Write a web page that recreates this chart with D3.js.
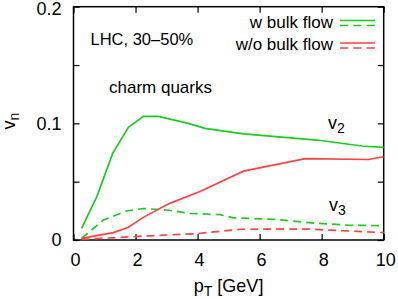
<!DOCTYPE html>
<html>
<head>
<meta charset="utf-8">
<script src="https://cdn.jsdelivr.net/npm/d3@7"></script>
<style>
  body { margin: 0; background: white; }
  svg { display: block; font-family: "Liberation Sans", Arial, sans-serif; }
</style>
</head>
<body>
<div id="myPlot"></div>
<script>
const rootSelector = "#myPlot"

// v2, with bulk flow (green solid)
const ptV2Bulk = [0.26, 0.75, 1.26, 1.77, 2.25, 2.74, 3.7, 4.24, 5.48, 7.84, 9.3, 10]
const v2Bulk = [0.010, 0.037, 0.074, 0.0966, 0.106, 0.106, 0.100, 0.0957, 0.091, 0.0857, 0.0806, 0.0794]

// v3, with bulk flow (green dashed)
const ptV3Bulk = [0.26, 0.96, 1.7, 2.25, 3.0, 3.76, 4.73, 5.15, 6.45, 7.85, 8.92, 10]
const v3Bulk = [0.0014, 0.017, 0.0249, 0.027, 0.0257, 0.0229, 0.0217, 0.019, 0.0177, 0.0143, 0.0126, 0.0123]

// v2, without bulk flow (red solid)
const ptV2NoBulk = [0.26, 1.28, 1.77, 2.25, 3.1, 4.08, 5.48, 7.47, 9.5, 10]
const v2NoBulk = [0.0014, 0.0063, 0.0109, 0.0194, 0.0314, 0.0415, 0.059, 0.0697, 0.069, 0.0714]

// v3, without bulk flow (red dashed)
const ptV3NoBulk = [0.26, 2.0, 4.0, 5.4, 7.5, 8.9, 10]
const v3NoBulk = [0.0005, 0.003, 0.0055, 0.0092, 0.0094, 0.0077, 0.0063]

const xTicks = [0, 2, 4, 6, 8, 10]
const yTicks = [0, 0.05, 0.1, 0.15, 0.2]
const yTickLabels = ["0", "", "0.1", "", "0.2"]
const legendLabels = ["w bulk flow", "w/o bulk flow"]

const green = "#1ccc1c"
const red = "#ff4242"

const clientWidth = 398
const clientHeight = 299
const margin = {top: 6.7, right: 14.3, bottom: 59, left: 73.5}
const width = clientWidth - margin.left - margin.right
const height = clientHeight - margin.top - margin.bottom

const svg = d3.select(rootSelector).append("svg")
    .attr("width", clientWidth)
    .attr("height", clientHeight)

const g = svg.append("g")
    .attr("transform", `translate(${margin.left}, ${margin.top})`)

const xScale = d3.scaleLinear().domain([0, 10]).range([0, width])
const yScale = d3.scaleLinear().domain([0, 0.2]).range([height, 0])

const tickLen = 6

// ticks on all four sides, pointing inward
g.append("g")
    .attr("transform", `translate(0, ${height})`)
    .call(d3.axisTop(xScale).tickValues(xTicks).tickSize(tickLen).tickFormat(""))
g.append("g")
    .call(d3.axisBottom(xScale).tickValues(xTicks).tickSize(tickLen).tickFormat(""))
g.append("g")
    .call(d3.axisRight(yScale).tickValues(yTicks).tickSize(tickLen).tickFormat(""))
g.append("g")
    .attr("transform", `translate(${width}, 0)`)
    .call(d3.axisLeft(yScale).tickValues(yTicks).tickSize(tickLen).tickFormat(""))

g.selectAll(".domain").remove()
g.selectAll(".tick line").attr("stroke", "#000").attr("stroke-width", 1.2)

g.append("rect")
    .attr("width", width)
    .attr("height", height)
    .attr("fill", "none")
    .attr("stroke", "#000")
    .attr("stroke-width", 1.5)

// tick labels
g.selectAll(".xlab")
    .data(xTicks)
    .enter().append("text")
    .attr("x", d => xScale(d) + 2)
    .attr("y", height + 26.5)
    .attr("text-anchor", "middle")
    .attr("font-size", 18)
    .text(d => d)

g.selectAll(".ylab")
    .data(yTicks)
    .enter().append("text")
    .attr("x", -12)
    .attr("y", d => Math.max(yScale(d), 1.5))
    .attr("dy", "0.36em")
    .attr("text-anchor", "end")
    .attr("font-size", 18)
    .text((d, i) => yTickLabels[i])

// axis titles
const xTitle = svg.append("text")
    .attr("x", margin.left + width / 2)
    .attr("y", 291.5)
    .attr("text-anchor", "middle")
    .attr("font-size", 18)
xTitle.append("tspan").text("p")
xTitle.append("tspan").attr("font-size", 14).attr("dy", 4).text("T")
xTitle.append("tspan").attr("dy", -4).text(" [GeV]")

const yTitle = svg.append("text")
    .attr("transform", "translate(15, 121) rotate(-90)")
    .attr("text-anchor", "middle")
    .attr("font-size", 18)
yTitle.append("tspan").text("v")
yTitle.append("tspan").attr("font-size", 14).attr("dy", 4).text("n")

// curves
const line = d3.line()
    .x(d => xScale(d[0]))
    .y(d => yScale(d[1]))

const series = [
    {pt: ptV2Bulk, v: v2Bulk, color: green, dash: null},
    {pt: ptV3Bulk, v: v3Bulk, color: green, dash: "8,5"},
    {pt: ptV2NoBulk, v: v2NoBulk, color: red, dash: null},
    {pt: ptV3NoBulk, v: v3NoBulk, color: red, dash: "8,5"}
]

series.forEach(s => {
    g.append("path")
        .datum(d3.zip(s.pt, s.v))
        .attr("fill", "none")
        .attr("stroke", s.color)
        .attr("stroke-width", 1.7)
        .attr("stroke-dasharray", s.dash)
        .attr("d", line)
})

// annotations
svg.append("text")
    .attr("x", 90.5).attr("y", 45)
    .attr("font-size", 16.5)
    .text("LHC, 30\u201350%")

svg.append("text")
    .attr("x", 109).attr("y", 93)
    .attr("font-size", 17)
    .text("charm quarks")

const v2Label = svg.append("text").attr("x", 328).attr("y", 129).attr("font-size", 18)
v2Label.append("tspan").text("v")
v2Label.append("tspan").attr("font-size", 14).attr("dy", 4).text("2")

const v3Label = svg.append("text").attr("x", 329).attr("y", 211).attr("font-size", 18)
v3Label.append("tspan").text("v")
v3Label.append("tspan").attr("font-size", 14).attr("dy", 4).text("3")

// legend
const legendColors = [green, red]
const legendY = [22, 44.5]
legendLabels.forEach((label, i) => {
    svg.append("text")
        .attr("x", 333).attr("y", legendY[i] + 5.5)
        .attr("text-anchor", "end")
        .attr("font-size", 17)
        .text(label)
    svg.append("line")
        .attr("x1", 340).attr("x2", 375)
        .attr("y1", legendY[i] - 1.5).attr("y2", legendY[i] - 1.5)
        .attr("stroke", legendColors[i]).attr("stroke-width", 1.7)
    svg.append("line")
        .attr("x1", 340).attr("x2", 375)
        .attr("y1", legendY[i] + 3.5).attr("y2", legendY[i] + 3.5)
        .attr("stroke", legendColors[i]).attr("stroke-width", 1.7)
        .attr("stroke-dasharray", "8.3,5")
})
</script>
</body>
</html>
